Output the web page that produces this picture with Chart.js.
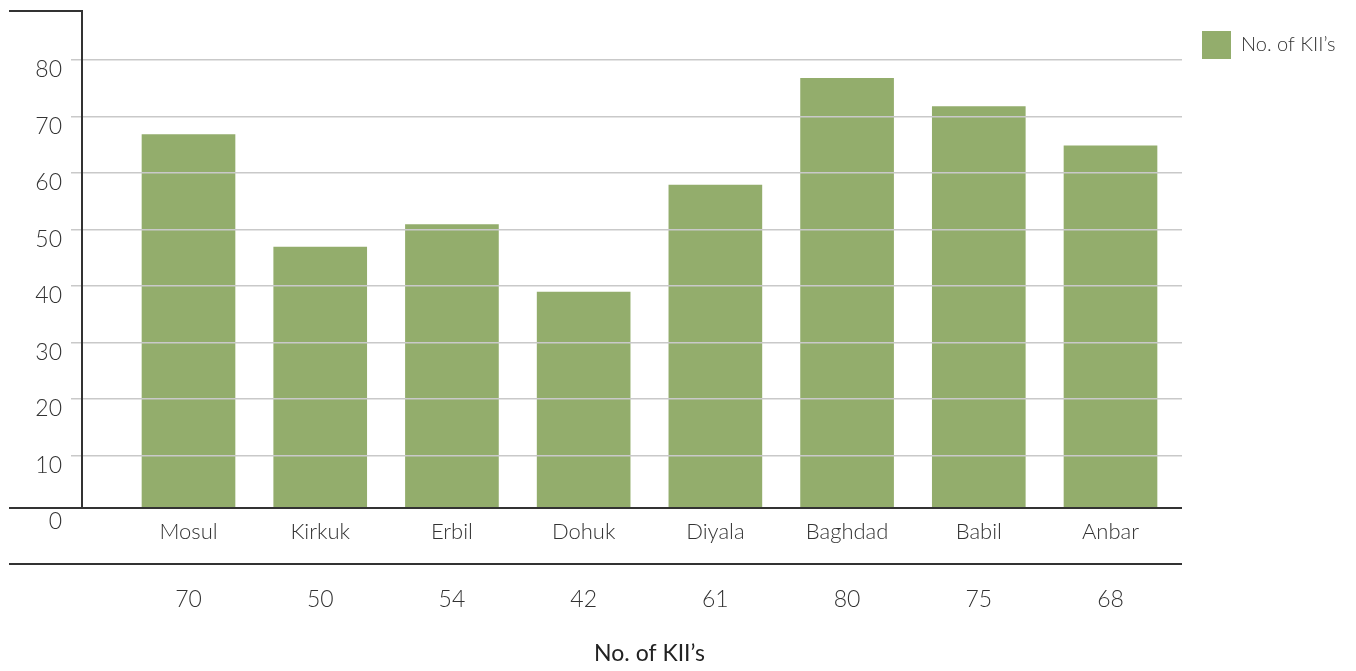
<!DOCTYPE html>
<html>
<head>
<meta charset="utf-8">
<title>No. of KII’s by governorate</title>
<script src="https://cdn.jsdelivr.net/npm/chart.js@4.4.1/dist/chart.umd.min.js"></script>
<style>
  html, body { margin: 0; padding: 0; background: #ffffff; }
  #wrap { position: relative; width: 1356px; height: 671px; }
</style>
</head>
<body>
<div id="wrap"><canvas id="chart" width="1356" height="671"></canvas></div>
<script>
// ---- data ----
const categories = ['Mosul', 'Kirkuk', 'Erbil', 'Dohuk', 'Diyala', 'Baghdad', 'Babil', 'Anbar'];
const kiiCounts = [70, 50, 54, 42, 61, 80, 75, 68];
const yTickValues = [0, 10, 20, 30, 40, 50, 60, 70, 80];
const seriesLabel = 'No. of KII’s';

// ---- styling / layout ----
const FONT = 'Lato';
const TEXT = '#333333';
const TITLE_COLOR = '#222222';
const RULE = '#333333';
const GRID = '#c9c9c9';
const BAR = '#93ad6c';

const CANVAS_W = 1356;
const PLOT_LEFT = 82;       // y-axis rule
const PLOT_RIGHT = 1182;    // end of grid / table rules
const TABLE_LEFT = 9;       // table rules start left of the axis

// horizontal range of the column scale
const X_MIN = -0.8086;
const X_MAX = 7.5428;
// bar value axis (hidden) and gridline axis (labelled)
const BAR_MIN = 3.5587;
const BAR_MAX = 91.993;
const GRID_MIN = 0.708;
const GRID_MAX = 88.673;

const legendFont = { family: FONT, size: 20, weight: 300 };
const LEGEND_PAD = 20, BOX_W = 29, BOX_H = 28;

// legend width decides how much room is left on the right
const mctx = document.createElement('canvas').getContext('2d');
mctx.font = '300 20px Lato';
const legendTextW = mctx.measureText(seriesLabel).width;
const legendW = LEGEND_PAD + BOX_W + legendFont.size / 2 + legendTextW + 10;
const padRight = Math.max(0, CANVAS_W - PLOT_RIGHT - legendW);

const columnTicks = s => { s.ticks = categories.map((_, i) => ({ value: i })); };
const noEdgePadding = s => { s.paddingLeft = 0; s.paddingRight = 0; s.paddingTop = 0; s.paddingBottom = 0; };

// table rules and the footer caption
const tableRules = {
  id: 'tableRules',
  afterDraw(chart) {
    const { ctx, chartArea, scales } = chart;
    ctx.save();
    ctx.strokeStyle = RULE;
    ctx.lineWidth = 2;
    ctx.beginPath();
    ctx.moveTo(TABLE_LEFT, chartArea.top);
    ctx.lineTo(chartArea.left + 1, chartArea.top);
    ctx.moveTo(TABLE_LEFT, chartArea.bottom);
    ctx.lineTo(chartArea.right, chartArea.bottom);
    ctx.moveTo(TABLE_LEFT, scales.x2.top);
    ctx.lineTo(chartArea.right, scales.x2.top);
    ctx.stroke();

    const xs = scales.x;
    const mid = (xs.getPixelForValue(0) + xs.getPixelForValue(categories.length - 1)) / 2;
    ctx.fillStyle = TITLE_COLOR;
    ctx.font = '400 23px Lato';
    ctx.textAlign = 'center';
    ctx.textBaseline = 'middle';
    ctx.fillText(seriesLabel, mid, scales.x2.bottom - 17);
    ctx.restore();
  }
};

new Chart(document.getElementById('chart'), {
  type: 'bar',
  data: {
    datasets: [{
      label: seriesLabel,
      data: kiiCounts.map((v, i) => ({ x: i, y: v })),
      backgroundColor: BAR,
      borderWidth: 0,
      barThickness: 93,
      xAxisID: 'x',
      yAxisID: 'y'
    }]
  },
  options: {
    responsive: false,
    animation: false,
    layout: { padding: { top: 11, right: padRight, bottom: 0, left: 0 } },
    plugins: {
      legend: {
        position: 'right',
        align: 'start',
        labels: {
          boxWidth: BOX_W,
          boxHeight: BOX_H,
          padding: LEGEND_PAD,
          font: legendFont,
          color: TEXT
        }
      },
      tooltip: { enabled: false }
    },
    scales: {
      x: {
        type: 'linear',
        position: 'bottom',
        weight: 0,
        offset: false,
        bounds: 'data',
        min: X_MIN,
        max: X_MAX,
        afterBuildTicks: columnTicks,
        afterFit: s => { noEdgePadding(s); s.height = 56; },
        grid: { display: false, drawTicks: false, tickLength: 0, offset: false },
        border: { display: false },
        ticks: {
          autoSkip: false,
          maxRotation: 0,
          padding: 11,
          color: TEXT,
          font: { family: FONT, size: 22, weight: 300 },
          callback: v => categories[v] ?? ''
        }
      },
      x2: {
        type: 'linear',
        position: 'bottom',
        weight: 1,
        offset: false,
        bounds: 'data',
        min: X_MIN,
        max: X_MAX,
        afterBuildTicks: columnTicks,
        afterFit: s => { noEdgePadding(s); s.height = 107; },
        grid: { display: false, drawTicks: false, tickLength: 0, offset: false },
        border: { display: false },
        ticks: {
          autoSkip: false,
          maxRotation: 0,
          padding: 22,
          color: TEXT,
          font: { family: FONT, size: 23, weight: 300 },
          callback: v => (kiiCounts[v] !== undefined ? String(kiiCounts[v]) : '')
        }
      },
      y: {
        type: 'linear',
        display: false,
        bounds: 'data',
        min: BAR_MIN,
        max: BAR_MAX
      },
      yGrid: {
        type: 'linear',
        position: 'left',
        bounds: 'data',
        min: GRID_MIN,
        max: GRID_MAX,
        afterBuildTicks: s => { s.ticks = yTickValues.map(v => ({ value: v })); },
        afterFit: s => { noEdgePadding(s); s.width = PLOT_LEFT; },
        grid: {
          // the zero line sits under the table rule, so it is left out
          color: c => (c.tick && c.tick.value === 0 ? 'rgba(0,0,0,0)' : GRID),
          lineWidth: 1.5,
          tickLength: 11,
          z: 1
        },
        border: { display: true, color: RULE, width: 2, z: 2 },
        ticks: {
          padding: 9,
          labelOffset: 10,
          color: TEXT,
          font: { family: FONT, size: 23, weight: 300 },
          callback: v => String(v)
        }
      }
    }
  },
  plugins: [tableRules]
});
</script>
</body>
</html>
